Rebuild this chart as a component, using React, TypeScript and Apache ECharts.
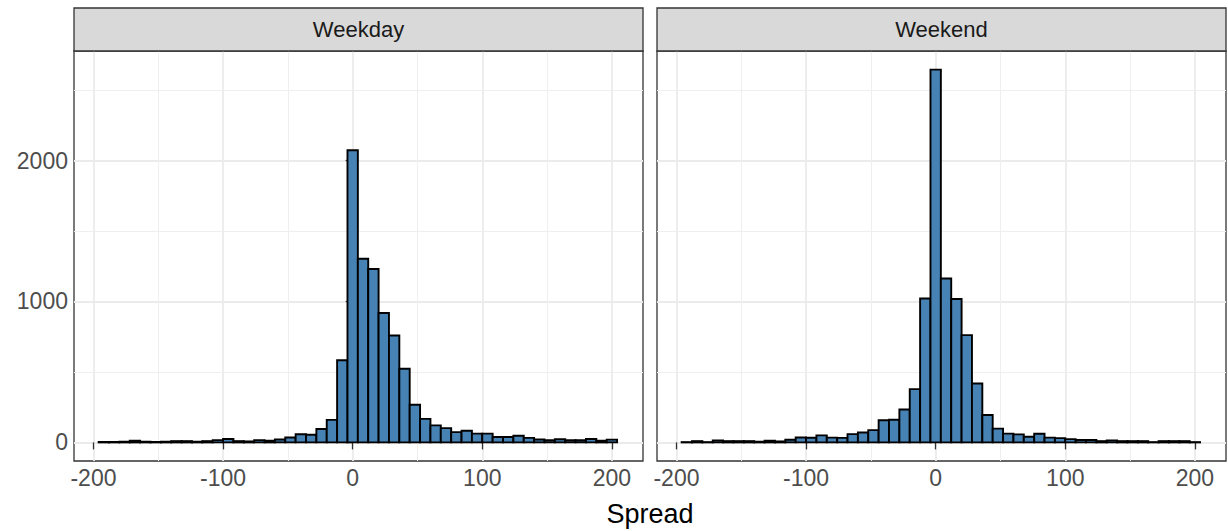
import React, { useEffect, useRef } from "react";
import * as echarts from "echarts";

const panelNames = ["Weekday", "Weekend"];
const binWidth = 8;
const binCenters = [
  -192, -184, -176, -168, -160, -152, -144, -136, -128, -120,
  -112, -104, -96, -88, -80, -72, -64, -56, -48, -40,
  -32, -24, -16, -8, 0, 8, 16, 24, 32, 40,
  48, 56, 64, 72, 80, 88, 96, 104, 112, 120,
  128, 136, 144, 152, 160, 168, 176, 184, 192, 200,
];
const weekdayCounts = [
  3, 3, 5, 12, 5, 3, 5, 9, 9, 5,
  9, 16, 24, 9, 7, 16, 12, 21, 35, 58,
  54, 95, 160, 583, 2073, 1303, 1230, 918, 758, 522,
  267, 167, 121, 101, 73, 83, 62, 62, 38, 38,
  47, 32, 21, 15, 22, 15, 15, 24, 12, 20,
];
const weekendCounts = [
  2, 9, 2, 14, 9, 9, 9, 5, 12, 7,
  19, 35, 33, 50, 34, 32, 59, 70, 87, 157,
  161, 233, 378, 1021, 2645, 1163, 1017, 761, 418, 194,
  98, 62, 57, 40, 61, 34, 30, 23, 17, 17,
  9, 14, 9, 9, 9, 2, 9, 9, 9, 2,
];
const xMajorTicks = [-200, -100, 0, 100, 200];
const xMinorTicks = [-150, -50, 50, 150];
const yMajorTicks = [0, 1000, 2000];
const yMinorTicks = [500, 1500, 2500];
const xTitle = "Spread";

const X_MIN = -215;
const X_MAX = 224;
const Y_MIN = -132;
const Y_MAX = 2777;

const FONT = "'Liberation Sans', Arial, sans-serif";

export default function App() {
  const ref = useRef<HTMLDivElement>(null);
  useEffect(() => {
    if (!ref.current) return;
    const chart = echarts.init(ref.current, null, { renderer: "svg" });
    const panels = [
      { left: 74, counts: weekdayCounts },
      { left: 657, counts: weekendCounts },
    ];
    const panelW = 569;
    const top = 51;
    const height = 410;

    const grids: any[] = [];
    const xAxes: any[] = [];
    const yAxes: any[] = [];
    const series: any[] = [];
    const graphics: any[] = [];

    panels.forEach((p, i) => {
      grids.push({
        left: p.left,
        top,
        width: panelW,
        height,
        show: true,
        borderColor: "#333333",
        borderWidth: 1.3,
        backgroundColor: "transparent",
      });
      xAxes.push({
        type: "value",
        gridIndex: i,
        min: X_MIN,
        max: X_MAX,
        position: "bottom",
        axisLine: { show: false },
        axisTick: {
          show: true,
          customValues: xMajorTicks,
          length: 7,
          lineStyle: { color: "#333333", width: 1.3 },
        },
        axisLabel: {
          show: true,
          customValues: xMajorTicks,
          formatter: (v: number) => String(v),
          color: "#4d4d4d",
          fontSize: 23,
          fontFamily: FONT,
          margin: 5,
        },
        splitLine: { show: true, lineStyle: { color: "#ebebeb", width: 1.8 } },
      });
      xAxes.push({
        type: "value",
        gridIndex: i,
        min: X_MIN,
        max: X_MAX,
        position: "bottom",
        axisLine: { show: false },
        axisTick: { show: false, customValues: xMinorTicks },
        axisLabel: { show: false, customValues: xMinorTicks },
        splitLine: { show: true, lineStyle: { color: "#efefef", width: 1 } },
      });
      yAxes.push({
        type: "value",
        gridIndex: i,
        min: Y_MIN,
        max: Y_MAX,
        axisLine: { show: false },
        axisTick: {
          show: i === 0,
          customValues: yMajorTicks,
          length: 7,
          lineStyle: { color: "#333333", width: 1.3 },
        },
        axisLabel: {
          show: i === 0,
          customValues: yMajorTicks,
          formatter: (v: number) => String(v),
          color: "#4d4d4d",
          fontSize: 23,
          fontFamily: FONT,
          margin: 6,
        },
        splitLine: { show: true, lineStyle: { color: "#ebebeb", width: 1.8 } },
      });
      yAxes.push({
        type: "value",
        gridIndex: i,
        min: Y_MIN,
        max: Y_MAX,
        axisLine: { show: false },
        axisTick: { show: false, customValues: yMinorTicks },
        axisLabel: { show: false, customValues: yMinorTicks },
        splitLine: { show: true, lineStyle: { color: "#efefef", width: 1 } },
      });
      series.push({
        type: "custom",
        name: panelNames[i],
        xAxisIndex: i * 2,
        yAxisIndex: i * 2,
        encode: { x: [0, 1], y: 2 },
        data: binCenters.map((c, k) => [c - binWidth / 2, c + binWidth / 2, p.counts[k]]),
        renderItem: (params: any, api: any) => {
          const x0 = api.value(0);
          const x1 = api.value(1);
          const v = api.value(2);
          const a = api.coord([x0, v]);
          const b = api.coord([x1, 0]);
          return {
            type: "rect",
            shape: { x: a[0], y: a[1], width: b[0] - a[0], height: b[1] - a[1] },
            style: { fill: "#4682b4", stroke: "#000000", lineWidth: 1.9 },
          };
        },
      });
      graphics.push({
        type: "rect",
        shape: { x: p.left, y: 8, width: panelW, height: top - 8 },
        style: { fill: "#d9d9d9", stroke: "#333333", lineWidth: 1.3 },
        z: 10,
      });
      graphics.push({
        type: "text",
        x: p.left + panelW / 2,
        y: (8 + top) / 2,
        style: {
          text: panelNames[i],
          fill: "#1a1a1a",
          font: `22px ${FONT}`,
          align: "center",
          verticalAlign: "middle",
        },
        z: 11,
      });
    });

    graphics.push({
      type: "text",
      x: 650,
      y: 514,
      style: {
        text: xTitle,
        fill: "#000000",
        font: `27px ${FONT}`,
        align: "center",
        verticalAlign: "middle",
      },
      z: 11,
    });

    chart.setOption({
      animation: false,
      backgroundColor: "#ffffff",
      grid: grids,
      xAxis: xAxes,
      yAxis: yAxes,
      series,
      graphic: graphics,
    });
    return () => chart.dispose();
  }, []);
  return (
    <div
      ref={ref}
      style={{ position: "fixed", left: 0, top: 0, width: 1228, height: 531 }}
    />
  );
}
